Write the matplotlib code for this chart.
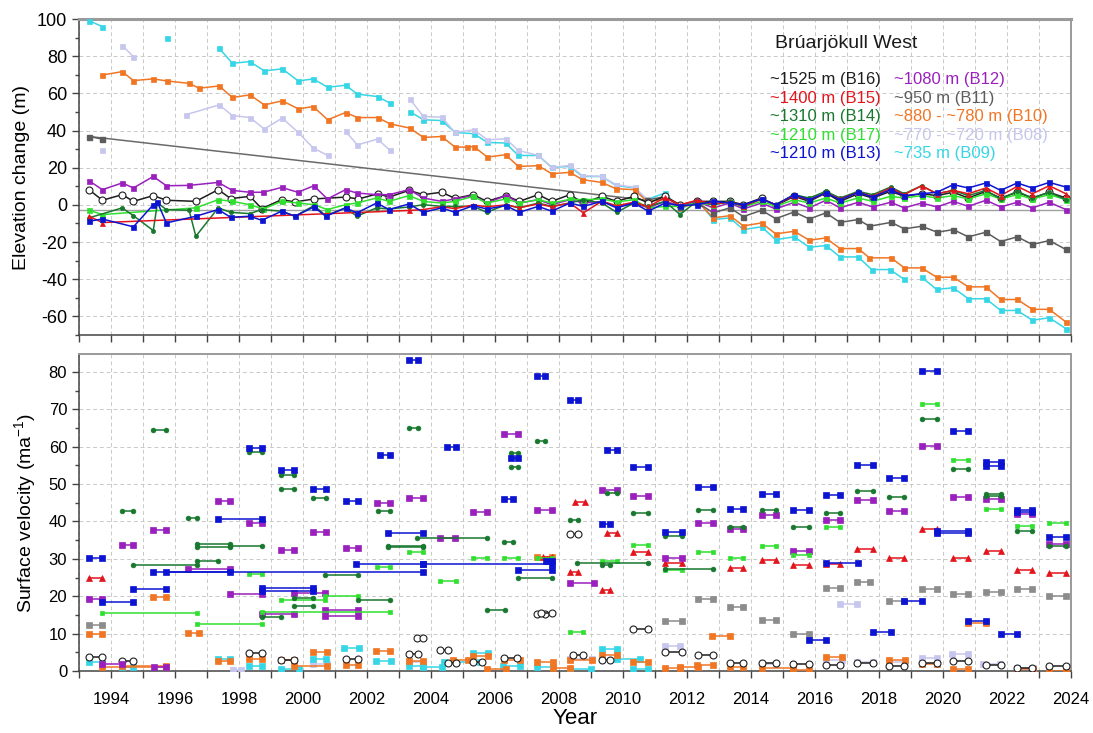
import numpy as np
import matplotlib
matplotlib.use("Agg")
import matplotlib.pyplot as plt
from matplotlib.ticker import MultipleLocator, FuncFormatter

plt.rcParams['font.family'] = ['Liberation Sans', 'DejaVu Sans']
plt.rcParams['mathtext.fontset'] = 'custom'
plt.rcParams['mathtext.rm'] = 'Liberation Sans'
plt.rcParams['mathtext.it'] = 'Liberation Sans'
plt.rcParams['axes.unicode_minus'] = False

nan = np.nan

# ---- colours per stake ----
col = {
    'B16': '#1e1e1e', 'B15': '#e3141c', 'B14': '#17782e', 'B17': '#2fe02f',
    'B13': '#0c14d2', 'B12': '#9a20bd', 'B11': '#5c5c5c', 'B10': '#f07624',
    'B08': '#c6c6ee', 'B09': '#36d6e6',
}
col_b11_vel = '#8c8c8c'

# ---- elevation change (m) ----
# common spring/autumn survey epochs 2003-2023
t_0323 = [2003.31, 2003.76, 2004.33, 2004.75, 2005.32, 2005.74, 2006.34, 2006.76,
          2007.35, 2007.77, 2008.34, 2008.76, 2009.34, 2009.80, 2010.34, 2010.79,
          2011.31, 2011.78, 2012.30, 2012.82, 2013.34, 2013.76, 2014.33, 2014.77,
          2015.35, 2015.82, 2016.34, 2016.78, 2017.35, 2017.80, 2018.36, 2018.79,
          2019.33, 2019.81, 2020.32, 2020.79, 2021.34, 2021.80, 2022.32, 2022.79,
          2023.32, 2023.84]

t_b16 = [1993.31, 1993.73, 1994.35, 1994.70, 1995.32, 1995.73, 1996.65, 1997.35, 1997.74,
         1998.34, 1998.71, 1999.33, 1999.75, 2000.34, 2001.33, 2001.73, 2002.34, 2002.69]
dh_b16 = [8.2, 2.5, 5.5, 1.9, 5.0, 2.5, 1.9, 8.2, 3.4, 4.6, -2.0, 2.8, 1.6, 3.2, 4.2, 3.2, 6.0, 4.2,
          7.8, 5.5, 6.8, 3.5, 5.5, 1.9, 5.0, 1.9, 5.5, 1.9, 5.5, 1.0, 4.6, 1.9, 4.6, 1.0,
          4.6, 0.1, 1.9, 1.9, 1.9, 0.1, 3.7, -0.4, 4.6, 1.9, 6.4, 1.9, 6.0, 3.7, 7.3, 4.6,
          6.0, 5.0, 6.8, 3.7, 7.3, 3.7, 6.8, 3.7, 6.8, 3.7]

t_b15 = [1993.31, 1993.73]
dh_b15 = [-6.1, -9.5,
          -3.0, -2.5, -1.0, -2.0, 0.0, -1.0, 0.0, -1.5, 0.5, -1.0, 1.0, -4.3, 2.0, -0.5,
          1.5, -1.0, 4.0, 0.0, 2.5, 0.5, 1.5, -0.5, 3.2, 0.1, 5.0, 2.8, 6.4, 3.2, 6.8, 4.6,
          9.1, 5.5, 10.3, 6.0, 7.8, 6.0, 9.1, 5.0, 10.0, 6.0, 10.3, 6.0]

t_b14 = [1993.31, 1994.35, 1994.70, 1995.32, 1995.45, 1995.73, 1996.44, 1996.65, 1997.35,
         1997.74, 1998.34, 1998.71, 1999.33, 1999.75, 2000.34, 2000.71, 2001.33, 2001.68,
         2002.30, 2002.69]
dh_b14 = [-7.0, -1.6, -5.8, -13.8, 1.0, -2.5, -2.9, -16.9, -1.6, -4.0, -4.7, -2.5, -3.4, -6.1,
          -0.4, -5.8, -1.6, -6.1, -1.6, -2.2,
          -1.1, 0.1, -0.8, -0.8, -0.8, -4.0, 0.1, -1.6, 1.0, -0.8, 1.0, 2.8, 1.0, -4.0,
          1.0, -0.8, 1.9, -5.2, 1.9, 0.1, 1.9, -0.8, 3.2, 0.1, 5.5, 3.7, 7.3, 3.7, 7.3, 5.5,
          9.6, 6.0, 10.3, 6.0, 7.8, 5.0, 7.8, 3.2, 7.3, 3.7, 6.8, 2.8]

t_b17 = [1993.31, 1993.73, 1996.65, 1997.35, 1997.79, 1998.34, 1998.76, 1999.33, 1999.84,
         2000.34, 2000.76, 2001.33, 2001.68, 2002.30, 2002.69]
dh_b17 = [-2.9, -5.2, -1.6, 2.8, 1.9, 0.1, -2.2, 1.9, 1.0, 0.1, -2.5, 0.1, 1.0, 3.7, 1.9,
          5.0, 1.9, 1.0, 1.9, 4.6, 1.0, 3.2, 1.0, 2.8, 1.0, 3.0, 2.8, 3.2, 1.6, 2.8, -1.6,
          -0.8, -0.8, 1.0, 0.1, 1.6, -1.1, 1.9, -0.8, 2.8, 1.0, 3.7, 1.0, 3.7, 1.9, 4.6, 3.7,
          5.0, 3.7, 5.0, 3.2, 6.0, 3.2, 5.5, 3.2, 5.5, 2.8]

t_b13 = [1993.31, 1993.73, 1994.70, 1995.32, 1995.45, 1995.73, 1996.65, 1997.35, 1997.74,
         1998.34, 1998.71, 1999.33, 1999.75, 2000.34, 2000.71, 2001.33, 2001.68, 2002.30,
         2002.69]
dh_b13 = [-8.8, -7.6, -11.8, 0.1, 1.4, -9.7, -6.1, -2.5, -6.7, -6.1, -8.3, -3.4, -6.1, -1.1,
          -6.1, -1.6, -4.3, 1.0, -2.5,
          0.5, -4.0, -1.6, -4.0, -0.4, -2.2, -0.4, -4.0, -0.8, -3.4, 1.0, -0.8, 1.9, -1.6,
          1.0, -3.4, 1.0, -0.4, 0.1, 1.9, 1.0, 0.1, 3.2, 0.1, 5.5, 2.8, 6.4, 2.8, 6.8, 4.2,
          8.2, 5.0, 6.0, 6.8, 10.9, 9.1, 11.8, 7.8, 11.8, 9.1, 12.1, 9.6]

t_b12 = [1993.31, 1993.73, 1994.35, 1994.70, 1995.32, 1995.73, 1996.44, 1997.35, 1997.79,
         1998.34, 1998.76, 1999.33, 1999.84, 2000.34, 2000.76, 2001.33, 2001.68, 2002.30,
         2002.69]
dh_b12 = [13.0, 8.2, 11.8, 9.1, 15.3, 10.3, 10.5, 12.1, 7.8, 6.8, 6.8, 9.4, 6.8, 10.3, 3.2,
          8.2, 6.4, 5.5, 5.5,
          8.2, 3.7, 1.9, 3.2, 5.0, 1.0, 5.0, 1.0, 2.8, 0.1, 2.8, 1.0, 1.9, -0.8, 1.0, -1.6,
          1.9, -0.8, 1.9, -1.6, 1.0, -2.2, 1.0, -2.2, 1.4, -1.6, 2.5, -1.6, 1.4, -1.1, 1.4,
          -1.6, 1.0, -1.1, 1.9, -0.8, 2.5, -1.1, 1.4, -1.6, 1.4, -2.5]

t_b11 = [1993.32, 1993.73, 2010.74, 2011.31, 2011.78, 2012.35, 2012.82, 2013.34, 2013.76,
         2014.33, 2014.77, 2015.35, 2015.82, 2016.34, 2016.78, 2017.35, 2017.70, 2018.38,
         2018.79, 2019.33, 2019.82, 2020.32, 2020.79, 2021.34, 2021.80, 2022.32, 2022.79,
         2023.32, 2023.84]
dh_b11 = [36.8, 35.4, 2.5, 4.5, -1.0, 1.0, -4.3, -1.6, -6.3, -2.9, -7.4, -3.8, -7.6, -4.3,
          -9.4, -7.9, -11.5, -9.4, -12.9, -11.5, -14.7, -13.3, -17.2, -14.7, -19.7, -17.2,
          -21.3, -19.2, -24.0]

t_b10 = [1993.73, 1994.35, 1994.70, 1995.32, 1995.74, 1996.44, 1996.75, 1997.38, 1997.79,
         1998.34, 1998.79, 1999.35, 1999.85, 2000.32, 2000.77, 2001.33, 2001.70, 2002.33,
         2002.72, 2003.34, 2003.76, 2004.33, 2004.75, 2005.12, 2005.34, 2005.76, 2006.33,
         2006.73, 2007.35, 2007.77, 2008.34, 2008.73, 2009.33, 2009.78, 2010.36, 2010.74,
         2011.31, 2011.78, 2012.35, 2012.82, 2013.34, 2013.76, 2014.33, 2014.77, 2015.35,
         2015.82, 2016.34, 2016.78, 2017.35, 2017.70, 2018.38, 2018.79, 2019.33, 2019.80,
         2020.32, 2020.79, 2021.34, 2021.80, 2022.32, 2022.79, 2023.32, 2023.84]
dh_b10 = [69.9, 71.7, 66.9, 67.8, 66.7, 65.4, 62.8, 64.0, 57.8, 59.2, 53.8, 56.0, 51.7, 52.9,
          45.8, 49.7, 47.0, 47.0, 43.6, 41.3, 36.3, 36.8, 31.1, 31.1, 31.4, 25.7, 27.0, 20.7,
          21.1, 16.8, 17.5, 13.6, 12.1, 8.7, 8.2, 1.9, 2.8, -1.6, 1.4, -7.0, -5.8, -11.3,
          -9.7, -15.6, -14.2, -19.0, -17.8, -23.5, -23.5, -28.5, -28.5, -33.9, -33.9, -38.9,
          -38.9, -44.1, -44.1, -50.9, -50.9, -56.2, -56.2, -63.0]

t_b08 = [1993.73, nan, 1994.35, 1994.70, nan, 1996.33, 1997.38, 1997.79, 1998.34, 1998.79,
         1999.35, 1999.85, 2000.32, 2000.77, nan, 2001.33, 2001.70, 2002.33, 2002.72, nan,
         2003.34, 2003.76, 2004.33, 2004.75, 2005.34, 2005.76, 2006.33, 2006.73, 2007.35,
         2007.77, 2008.34, 2008.73, 2009.33, 2009.78, 2010.36, 2010.74]
dh_b08 = [29.3, nan, 85.7, 79.8, nan, 48.5, 53.8, 48.1, 47.0, 40.8, 46.7, 39.0, 30.6, 26.6,
          nan, 39.5, 32.3, 35.4, 29.3, nan, 56.9, 47.6, 47.2, 39.0, 40.4, 35.0, 35.6, 29.3,
          26.6, 20.2, 21.2, 15.7, 15.3, 10.9, 9.4, 3.2]

t_b09 = [1993.32, 1993.73, nan, 1995.74, nan, 1997.38, 1997.79, 1998.34, 1998.79, 1999.35,
         1999.85, 2000.32, 2000.77, 2001.33, 2001.70, 2002.33, 2002.72, nan, 2003.34, 2003.76,
         2004.33, 2004.75, 2005.34, 2005.76, 2006.33, 2006.73, 2007.35, 2007.77, 2008.34,
         2008.73, 2009.33, 2009.78, 2010.36, 2010.74, 2011.31, 2011.78, 2012.35, 2012.82,
         2013.34, 2013.76, 2014.33, 2014.77, 2015.35, 2015.82, 2016.34, 2016.78, 2017.35,
         2017.77, 2018.34, 2018.79, nan, 2019.33, 2019.80, 2020.32, 2020.79, 2021.34,
         2021.80, 2022.32, 2022.79, 2023.32, 2023.84]
dh_b09 = [99.1, 95.9, nan, 89.6, nan, 84.3, 76.2, 77.1, 72.1, 73.2, 66.7, 67.8, 63.3, 64.4,
          59.6, 58.3, 54.7, nan, 50.2, 45.8, 45.4, 39.0, 38.3, 33.6, 33.3, 26.6, 26.6, 20.2,
          20.7, 15.3, 15.3, 10.5, 9.1, 2.8, 6.4, -2.2, 1.9, -7.9, -7.0, -13.3, -11.8, -18.7,
          -17.2, -22.8, -21.9, -28.0, -28.0, -34.8, -34.8, -40.1, nan, -38.9, -45.5, -44.6,
          -50.5, -50.5, -56.8, -56.8, -62.1, -60.7, -66.6]

# ---- surface velocity (m/a): (start, end, velocity) per measurement interval ----
vel_b08 = [(1997.80, 1998.05, 0.3), (2000.32, 2000.76, 2.0), (2003.32, 2003.76, 2.5),
           (2008.33, 2009.02, 3.3), (2011.31, 2011.78, 6.7), (2014.33, 2014.78, 2.0),
           (2016.34, 2016.83, 2.9), (2016.78, 2017.32, 17.9), (2017.32, 2017.82, 2.4),
           (2018.32, 2018.81, 2.4), (2019.33, 2019.80, 3.6), (2020.27, 2020.79, 4.5),
           (2021.26, 2021.78, 1.8), (2022.30, 2022.82, 0.8)]
vel_b09 = [(1993.31, 1993.73, 2.3), (1994.35, 1994.70, 1.2), (1997.35, 1997.72, 3.1),
           (1998.32, 1998.73, 1.3), (1999.31, 1999.88, 0.6), (2000.32, 2000.72, 3.3),
           (2001.28, 2001.75, 6.1), (2002.27, 2002.74, 2.7), (2003.32, 2003.76, 1.4),
           (2003.76, 2004.33, 1.0), (2004.39, 2005.53, 2.5), (2005.32, 2005.79, 4.7),
           (2006.26, 2006.78, 1.4), (2007.30, 2007.82, 1.2), (2008.33, 2009.00, 0.4),
           (2009.33, 2009.80, 5.8), (2009.80, 2010.53, 3.1), (2010.32, 2010.79, 0.6)]
vel_b10 = [(1993.31, 1993.73, 9.8), (1993.73, 1995.71, 1.0), (1994.35, 1995.71, 1.3),
           (1995.32, 1995.72, 19.9), (1996.40, 1996.76, 10.1), (1997.35, 1997.72, 2.6),
           (1998.32, 1998.73, 3.1), (1999.31, 1999.72, 2.9), (1999.72, 2000.76, 1.3),
           (2000.32, 2000.76, 5.2), (2001.33, 2001.73, 1.6), (2002.27, 2002.72, 5.4),
           (2003.32, 2003.76, 2.6), (2004.70, 2005.17, 2.9), (2005.32, 2005.79, 4.1),
           (2005.74, 2006.34, 0.6), (2006.29, 2006.78, 2.9), (2007.30, 2007.82, 2.3),
           (2007.30, 2007.77, 30.5), (2007.82, 2008.33, 0.9), (2008.33, 2009.02, 2.9),
           (2009.33, 2009.80, 4.3), (2010.32, 2010.79, 2.5), (2011.31, 2011.78, 0.9),
           (2011.78, 2012.33, 1.0), (2012.30, 2012.82, 1.6), (2012.77, 2013.34, 9.4),
           (2013.34, 2013.76, 1.2), (2014.33, 2015.32, 0.9), (2015.32, 2015.82, 0.3),
           (2016.34, 2016.83, 3.8), (2018.32, 2018.81, 2.9), (2019.33, 2019.80, 2.0),
           (2020.32, 2020.79, 0.6), (2020.79, 2021.34, 12.8), (2022.32, 2022.82, 0.6),
           (2023.32, 2023.84, 0.1)]
vel_b11 = [(1993.31, 1993.73, 12.3), (2011.31, 2011.83, 13.5), (2012.33, 2012.82, 19.2),
           (2013.34, 2013.76, 17.2), (2014.33, 2014.78, 13.7), (2015.32, 2015.82, 9.9),
           (2016.34, 2016.78, 22.1), (2017.32, 2017.72, 23.9), (2018.32, 2018.79, 18.8),
           (2019.33, 2019.80, 21.9), (2020.32, 2020.79, 20.6), (2021.34, 2021.80, 21.2),
           (2022.32, 2022.79, 21.9), (2023.32, 2023.84, 20.1)]
vel_b16 = [(1993.31, 1993.73, 3.8), (1994.35, 1994.70, 2.8), (1998.32, 1998.73, 4.9),
           (1999.31, 1999.72, 2.9), (2001.33, 2001.73, 3.1), (2003.32, 2003.60, 4.5),
           (2003.55, 2003.74, 8.7), (2004.28, 2004.54, 5.6), (2004.54, 2004.78, 2.2),
           (2005.30, 2005.58, 2.5), (2006.29, 2006.68, 3.4), (2007.30, 2007.56, 15.2),
           (2007.45, 2007.77, 15.5), (2008.33, 2008.60, 36.6), (2008.45, 2008.76, 4.3),
           (2009.33, 2009.59, 2.9), (2010.32, 2010.79, 11.2), (2011.31, 2011.83, 5.1),
           (2012.33, 2012.82, 4.3), (2013.34, 2013.76, 2.2), (2014.33, 2014.78, 2.2),
           (2015.32, 2015.82, 1.8), (2016.34, 2016.78, 1.6), (2017.32, 2017.82, 2.2),
           (2018.32, 2018.79, 1.3), (2019.33, 2019.80, 2.1), (2020.32, 2020.79, 2.7),
           (2021.34, 2021.80, 1.5), (2022.32, 2022.79, 0.7), (2023.32, 2023.84, 1.3)]
vel_b15 = [(1993.31, 1993.73, 24.8), (2007.50, 2007.77, 30.5), (2008.33, 2008.60, 26.6),
           (2008.49, 2008.82, 45.1), (2009.33, 2009.59, 21.7), (2009.51, 2009.82, 36.8),
           (2010.32, 2010.79, 31.7), (2011.31, 2011.83, 28.8), (2013.34, 2013.76, 27.6),
           (2014.33, 2014.78, 29.8), (2015.32, 2015.82, 28.3), (2016.34, 2016.78, 28.5),
           (2017.32, 2017.82, 32.6), (2018.32, 2018.79, 30.2), (2019.33, 2019.80, 37.9),
           (2020.32, 2020.79, 30.2), (2021.34, 2021.80, 32.2), (2022.32, 2022.79, 26.9),
           (2023.32, 2023.84, 26.3)]
vel_b12 = [(1993.31, 1993.73, 19.2), (1993.73, 1994.35, 2.0), (1994.35, 1994.70, 33.7),
           (1995.32, 1995.72, 37.6), (1995.34, 1995.71, 1.1), (1996.40, 1997.72, 27.3),
           (1997.35, 1997.72, 45.6), (1997.72, 1998.73, 20.5), (1998.32, 1998.73, 39.7),
           (1998.73, 1999.72, 15.3), (1999.31, 1999.72, 32.4), (1999.72, 2000.69, 20.8),
           (2000.32, 2000.72, 37.2), (2000.69, 2001.73, 16.3), (2000.69, 2001.73, 14.8),
           (2001.33, 2001.73, 33.0), (2002.30, 2002.72, 45.0), (2003.32, 2003.74, 46.2),
           (2004.28, 2004.75, 35.7), (2005.30, 2005.76, 42.5), (2006.29, 2006.73, 63.4),
           (2007.30, 2007.77, 43.1), (2008.33, 2009.09, 23.5), (2009.33, 2009.82, 48.4),
           (2010.32, 2010.79, 46.9), (2011.31, 2011.83, 30.2), (2012.33, 2012.82, 39.5),
           (2013.34, 2013.76, 38.0), (2014.33, 2014.78, 41.7), (2015.32, 2015.82, 32.0),
           (2016.34, 2016.78, 40.4), (2017.32, 2017.82, 45.7), (2018.32, 2018.79, 42.9),
           (2019.33, 2019.80, 60.3), (2020.32, 2020.79, 46.5), (2021.34, 2021.80, 46.1),
           (2022.32, 2022.79, 41.9), (2023.32, 2023.84, 34.0)]
vel_b17 = [(1993.71, 1996.68, 15.4), (1996.68, 1998.73, 12.6), (1998.32, 1998.73, 25.9),
           (1998.73, 2002.72, 15.9), (1999.31, 2000.69, 19.0), (2000.69, 2001.73, 20.1),
           (2002.30, 2002.72, 27.9), (2003.32, 2003.74, 31.8), (2004.28, 2004.78, 24.2),
           (2005.30, 2005.76, 30.2), (2006.29, 2006.73, 30.2), (2007.30, 2007.77, 30.2),
           (2008.33, 2008.76, 10.3), (2009.33, 2009.82, 29.5), (2010.32, 2010.79, 33.7),
           (2011.31, 2011.83, 26.9), (2012.33, 2012.82, 31.7), (2013.34, 2013.76, 30.3),
           (2014.33, 2014.78, 33.3), (2015.32, 2015.82, 30.9), (2016.34, 2016.78, 38.6),
           (2019.33, 2019.80, 71.4), (2020.32, 2020.79, 56.5), (2021.34, 2021.80, 43.4),
           (2022.32, 2022.79, 38.8), (2023.32, 2023.84, 39.7)]
vel_b14 = [(1994.35, 1994.70, 42.8), (1994.70, 1996.68, 28.3), (1995.32, 1995.72, 64.4),
           (1996.40, 1996.68, 40.8), (1996.68, 1997.35, 29.4), (1996.68, 1997.72, 34.0),
           (1996.68, 1997.72, 33.1), (1997.72, 1998.73, 33.5), (1998.32, 1998.73, 58.6),
           (1998.73, 1999.31, 14.5), (1999.31, 1999.72, 52.3), (1999.31, 1999.72, 48.7),
           (1999.72, 2000.32, 19.4), (1999.72, 2000.32, 17.4), (2000.32, 2000.72, 46.4),
           (2000.69, 2001.73, 25.7), (2001.73, 2002.72, 19.0), (2002.33, 2002.72, 42.8),
           (2002.67, 2003.74, 33.5), (2002.67, 2003.74, 33.1), (2003.32, 2003.60, 64.9),
           (2003.55, 2005.74, 35.5), (2005.74, 2006.31, 16.3), (2006.29, 2006.57, 34.4),
           (2006.49, 2006.73, 58.2), (2006.49, 2006.73, 54.5), (2006.73, 2007.77, 24.8),
           (2007.30, 2007.56, 61.4), (2008.33, 2008.60, 40.4), (2008.55, 2010.79, 28.8),
           (2009.33, 2009.59, 28.4), (2009.51, 2009.82, 47.5), (2010.32, 2010.79, 42.2),
           (2011.31, 2011.83, 36.2), (2011.31, 2012.82, 27.4), (2012.33, 2012.82, 43.1),
           (2013.34, 2013.76, 38.6), (2014.33, 2014.78, 43.1), (2015.32, 2015.82, 38.4),
           (2016.34, 2016.78, 42.2), (2017.32, 2017.82, 48.1), (2018.32, 2018.79, 46.5),
           (2019.33, 2019.80, 67.3), (2020.32, 2020.79, 54.0), (2021.34, 2021.80, 47.3),
           (2021.34, 2021.80, 46.8), (2022.32, 2022.79, 37.5), (2023.32, 2023.84, 33.5)]
vel_b13 = [(1993.31, 1993.73, 30.2), (1993.71, 1994.70, 18.4), (1994.70, 1995.72, 21.9),
           (1995.32, 2003.76, 26.6), (1995.72, 1997.72, 26.4), (1997.35, 1998.73, 40.6),
           (1998.32, 1998.73, 59.6), (1998.73, 2000.32, 22.1), (1998.73, 2000.32, 21.5),
           (1999.31, 1999.72, 53.8), (2000.32, 2000.72, 48.7), (2001.33, 2001.73, 45.6),
           (2001.65, 2003.76, 28.6), (2002.41, 2002.72, 57.8), (2002.67, 2003.74, 36.8),
           (2003.32, 2003.60, 83.2), (2003.74, 2007.77, 28.5), (2004.51, 2004.78, 59.8),
           (2006.29, 2006.57, 46.0), (2006.49, 2006.73, 57.0), (2006.73, 2007.77, 26.9),
           (2007.30, 2007.56, 79.0), (2007.60, 2007.77, 29.3), (2008.33, 2008.60, 72.5),
           (2009.33, 2009.59, 39.3), (2009.51, 2009.82, 59.1), (2010.32, 2010.79, 54.5),
           (2011.31, 2011.83, 37.3), (2012.33, 2012.82, 49.3), (2013.34, 2013.76, 43.4),
           (2014.33, 2014.78, 47.4), (2015.32, 2015.82, 43.1), (2015.82, 2016.34, 8.3),
           (2016.34, 2017.35, 28.8), (2016.34, 2016.78, 47.1), (2017.32, 2017.82, 55.0),
           (2017.82, 2018.38, 10.5), (2018.32, 2018.79, 51.5), (2018.79, 2019.33, 18.6),
           (2019.33, 2019.80, 80.3), (2019.80, 2020.79, 37.5), (2019.80, 2020.79, 36.8),
           (2020.32, 2020.79, 64.1), (2020.79, 2021.34, 13.5), (2021.34, 2021.80, 55.8),
           (2021.34, 2021.80, 54.7), (2021.80, 2022.32, 9.8), (2022.32, 2022.79, 43.1),
           (2022.32, 2022.79, 42.4), (2023.32, 2023.84, 35.8)]

legend_left = [('~1525 m (B16)', 'B16'), ('~1400 m (B15)', 'B15'), ('~1310 m (B14)', 'B14'),
               ('~1210 m (B17)', 'B17'), ('~1210 m (B13)', 'B13')]
legend_right = [('~1080 m (B12)', 'B12'), ('~950 m (B11)', 'B11'),
                ('~880 - ~780 m (B10)', 'B10'), ('~770 - ~720 m (B08)', 'B08'),
                ('~735 m (B09)', 'B09')]

# marker style per stake
sq = dict(marker='s')
style = {
    'B16': dict(marker='o', mfc='white', mec=col['B16']),
    'B15': dict(marker='^'),
    'B14': dict(marker='o'),
    'B17': dict(marker='s'),
    'B13': sq, 'B12': sq, 'B11': sq, 'B10': sq, 'B08': sq, 'B09': sq,
}

fig = plt.figure(figsize=(10.93, 7.33), dpi=100)
ax1 = fig.add_axes([0.0723, 0.543, 0.9076, 0.431])
ax2 = fig.add_axes([0.0723, 0.0846, 0.9076, 0.4325])

grid_kw = dict(color='#c9c9c9', lw=0.7, ls=(0, (4, 3)))

# upper panel: elevation change
ax1.axhline(-3, color='#a0a0a0', lw=1.0, zorder=1)
ax1.plot([1993.32, 2010.74], [36.8, 2.5], color='#6a6a6a', lw=1.1, zorder=2)

top_series = [
    ('B09', t_b09, dh_b09), ('B08', t_b08, dh_b08), ('B10', t_b10, dh_b10),
    ('B11', t_b11, dh_b11), ('B16', t_b16 + t_0323, dh_b16), ('B12', t_b12 + t_0323, dh_b12),
    ('B17', t_b17 + t_0323, dh_b17), ('B14', t_b14 + t_0323, dh_b14),
    ('B15', t_b15 + t_0323, dh_b15), ('B13', t_b13 + t_0323, dh_b13),
]
for name, t, dh in top_series:
    st = dict(style[name])
    ms = 5.0 if name == 'B16' else 3.6
    if name == 'B14':
        ms = 3.0
    if name == 'B11':
        # the first two points are joined to 2010 by a straight line
        ax1.plot(t[:2], dh[:2], color=col[name], lw=1.1, ms=ms, **st, zorder=3)
        ax1.plot(t[2:], dh[2:], color=col[name], lw=1.1, ms=ms, **st, zorder=3)
        continue
    ax1.plot(t, dh, color=col[name], lw=1.1, ms=ms, mew=0.8 if name == 'B16' else 0.5,
             **st, zorder=3)

ax1.set_xlim(1993, 2024)
ax1.set_ylim(-70, 100)
ax1.yaxis.set_major_locator(MultipleLocator(20))
ax1.yaxis.set_minor_locator(MultipleLocator(10))
ax1.xaxis.set_major_locator(MultipleLocator(1))
ax1.tick_params(axis='x', labelbottom=False)
ax1.grid(True, which='major', **grid_kw)
ax1.set_ylabel('Elevation change (m)', fontsize=14)
ax1.yaxis.set_label_coords(-0.049, 0.5)
ax1.tick_params(axis='y', labelsize=13)

ax1.text(0.7016, 0.924, 'Brúarjökull West', transform=ax1.transAxes, fontsize=14,
         va='center', ha='left', color='#1a1a1a')
rows_y = [0.810, 0.750, 0.690, 0.630, 0.573]
for (label, key), y in zip(legend_left, rows_y):
    ax1.text(0.6966, y, label, transform=ax1.transAxes, fontsize=12, va='center',
             ha='left', color=col[key])
for (label, key), y in zip(legend_right, rows_y):
    ax1.text(0.8216, y, label, transform=ax1.transAxes, fontsize=12, va='center',
             ha='left', color=col[key])

# lower panel: velocity intervals
vel_series = [('B08', vel_b08), ('B09', vel_b09), ('B10', vel_b10), ('B11', vel_b11),
              ('B16', vel_b16), ('B15', vel_b15), ('B12', vel_b12), ('B17', vel_b17),
              ('B14', vel_b14), ('B13', vel_b13)]
for name, segs in vel_series:
    c = col_b11_vel if name == 'B11' else col[name]
    st = dict(style[name])
    ms = 4.2
    if name == 'B16':
        ms = 5.0
    elif name in ('B14', 'B17'):
        ms = 3.4
    elif name == 'B15':
        ms = 4.6
    for t0, t1, v in segs:
        ax2.plot([t0, t1], [v, v], color=c, lw=1.1, ms=ms,
                 mew=0.8 if name == 'B16' else 0.5, **st, zorder=3)

ax2.set_xlim(1993, 2024)
ax2.set_ylim(0, 84.8)
ax2.yaxis.set_major_locator(MultipleLocator(10))
ax2.yaxis.set_minor_locator(MultipleLocator(5))
ax2.xaxis.set_major_locator(MultipleLocator(1))
ax2.xaxis.set_major_formatter(FuncFormatter(lambda x, p: '%d' % x if int(round(x)) % 2 == 0 else ''))
ax2.grid(True, which='major', **grid_kw)
ax2.set_ylabel('Surface velocity (ma$^{-1}$)', fontsize=14)
ax2.yaxis.set_label_coords(-0.041, 0.5)
ax2.set_xlabel('Year', fontsize=16)
ax2.xaxis.set_label_coords(0.5, -0.118)
ax2.tick_params(axis='both', labelsize=12)
ax2.tick_params(axis='x', pad=10)

for ax in (ax1, ax2):
    ax.set_axisbelow(True)
    ax.tick_params(which='both', direction='out', color='#444444', width=1.0)
    ax.tick_params(which='major', length=5)
    ax.tick_params(which='minor', length=3)
    for side in ('left', 'bottom'):
        ax.spines[side].set_color('#444444')
        ax.spines[side].set_linewidth(1.1)
    for side in ('top', 'right'):
        ax.spines[side].set_color('#9a9a9a')
        ax.spines[side].set_linewidth(1.4)
ax1.spines['top'].set_linewidth(2.2)

fig.savefig('out.png', dpi=100, facecolor='white')
